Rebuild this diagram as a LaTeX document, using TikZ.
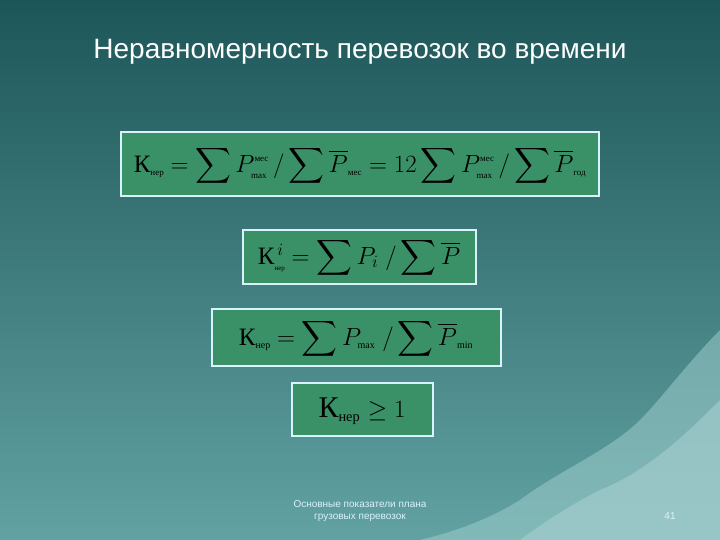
\documentclass[tikz,border=0pt]{standalone}
\usepackage{amsmath}
\usepackage{fontspec}
\setmainfont{Liberation Serif}
\newfontfamily\titlefont{Liberation Sans}
\usepackage{graphicx}
\begin{document}
\begin{tikzpicture}[x=1pt,y=-1pt]
\tikzset{fbox/.style={draw=white!85!cyan,line width=1.2pt,fill=formgreen},
 ftext/.style={font=\fontsize{25}{27}\selectfont,inner sep=0pt,text=black}}
\definecolor{formgreen}{HTML}{3A9168}
\definecolor{bgtop}{HTML}{1D5658}
\definecolor{bgbot}{HTML}{62A2A2}
\definecolor{wave}{HTML}{9CCBCB}
\useasboundingbox (0,0) rectangle (720,540);
\shade[top color=bgtop,bottom color=bgbot] (0,0) rectangle (720,540);
\fill[wave,opacity=0.55] (720,330) .. controls (690,360) and (660,400) .. (640,420) .. controls (610,450) and (560,470) .. (520,500) .. controls (480,525) and (440,535) .. (420,540) -- (720,540) -- cycle;
\fill[wave!80!white,opacity=0.5] (720,400) .. controls (690,430) and (650,470) .. (600,490) .. controls (570,505) and (540,525) .. (520,540) -- (720,540) -- cycle;
\node[font=\titlefont\fontsize{28}{30}\selectfont,text=white] (title) at (360,52) {Неравномерность перевозок во времени};
\draw[fbox] (121,132) rectangle (599,196);
\node[ftext] (f1) at (360,166) {К$_{\text{\small нер}}$ $=\displaystyle\sum P^{\text{\small мес}}_{\text{\small max}}\,/\sum\overline{P}_{\text{\small мес}}=12\sum P^{\text{\small мес}}_{\text{\small max}}\,/\sum\overline{P}_{\text{\small год}}$};
\draw[fbox] (243,230) rectangle (476,284);
\node[ftext] (f2) at (359,258) {К$^{\,i}_{\text{\scriptsize нер}}$ $=\displaystyle\sum P_i\;/\sum\overline{P}$};
\draw[fbox] (212,309) rectangle (501,366);
\node[ftext] (f3) at (356,339) {К$_{\text{\normalsize нер}}$ $=\displaystyle\sum P_{\text{\normalsize max}}\;/\sum\overline{P}_{\text{\normalsize min}}$};
\draw[fbox] (292,383) rectangle (433,436);
\node[ftext,font=\fontsize{30}{32}\selectfont] (f4) at (362,411) {К$_{\text{\Large нер}}$ $\geq 1$};
\node[font=\titlefont\fontsize{10}{12}\selectfont,text=white!85!cyan,align=center] (foot) at (360,511) {Основные показатели плана\\грузовых перевозок};
\node[font=\titlefont\fontsize{10}{12}\selectfont,text=white!85!cyan] (num) at (670,516) {41};
\end{tikzpicture}
\end{document}
